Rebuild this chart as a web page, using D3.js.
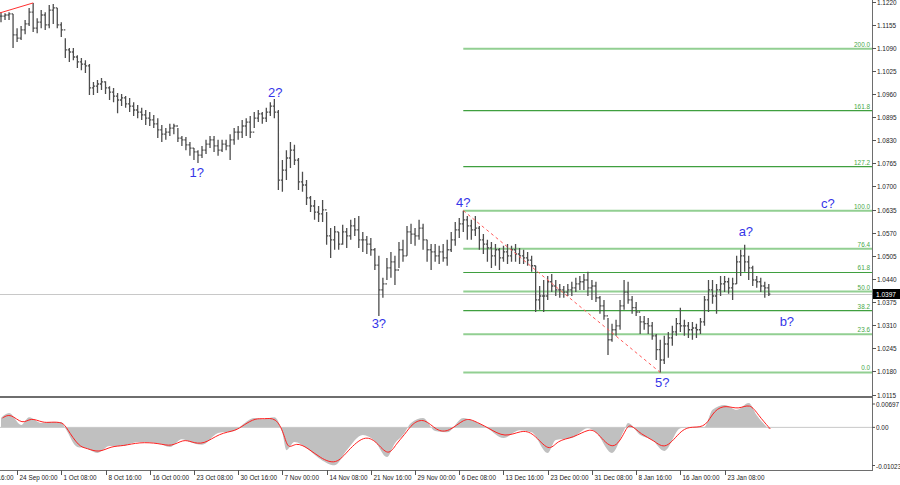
<!DOCTYPE html>
<html><head><meta charset="utf-8">
<script src="https://cdn.jsdelivr.net/npm/d3@7"></script>
<style>body{margin:0;background:#fff}svg{display:block}</style>
</head><body>
<svg id="c" width="900" height="485"></svg>
<script>
// ---- DATA ----
const high=[1.1190,1.1187,1.1190,1.1185,1.1145,1.1151,1.1168,1.1202,1.1216,1.1173,1.1196,1.1190,1.1210,1.1213,1.1202,1.1162,
1.1117,1.1089,1.1089,1.1069,1.1061,1.1055,1.1044,1.0994,1.0999,1.1005,1.0996,1.0982,1.0977,1.0963,1.0960,1.0954,1.0949,1.0937,1.0929,1.0921,
1.0915,1.0909,1.0901,1.0892,1.0873,1.0864,1.0876,1.0876,1.0864,1.0842,1.0839,1.0825,1.0808,1.0802,1.0814,1.0831,1.0842,1.0842,1.0831,1.0831,
1.0831,1.0847,1.0864,1.0870,1.0887,1.0892,1.0898,1.0909,1.0915,1.0909,1.0921,1.0937,1.0946,1.0915,1.0774,1.0802,1.0825,1.0817,1.0780,1.0741,
1.0718,1.0673,1.0662,1.0645,1.0662,1.0628,1.0583,1.0589,1.0572,1.0592,1.0583,1.0606,1.0611,1.0617,1.0572,1.0561,1.0555,1.0527,1.0505,1.0443,
1.0499,1.0516,1.0505,1.0544,1.0550,1.0589,1.0595,1.0583,1.0606,1.0595,1.0550,1.0538,1.0538,1.0533,1.0538,1.0550,1.0572,1.0600,1.0611,1.0632,
1.0617,1.0606,1.0617,1.0589,1.0566,1.0550,1.0544,1.0538,1.0527,1.0533,1.0538,1.0533,1.0538,1.0527,1.0522,1.0516,1.0505,1.0477,1.0420,1.0437,
1.0448,1.0454,1.0437,1.0426,1.0420,1.0426,1.0432,1.0443,1.0448,1.0454,1.0460,1.0437,1.0432,1.0392,1.0381,1.0330,1.0314,1.0325,1.0381,1.0437,
1.0432,1.0392,1.0375,1.0336,1.0336,1.0330,1.0319,1.0285,1.0269,1.0280,1.0291,1.0308,1.0330,1.0359,1.0325,1.0319,1.0319,1.0314,1.0330,1.0392,
1.0437,1.0437,1.0426,1.0448,1.0448,1.0443,1.0443,1.0505,1.0522,1.0536,1.0505,1.0477,1.0448,1.0443,1.0432,1.0426];
const low=[1.1162,1.1168,1.1168,1.1089,1.1106,1.1112,1.1128,1.1151,1.1134,1.1131,1.1145,1.1140,1.1145,1.1157,1.1145,1.1120,
1.1061,1.1050,1.1055,1.1033,1.1027,1.1019,1.0957,1.0957,1.0963,1.0971,1.0960,1.0943,1.0937,1.0906,1.0926,1.0921,1.0909,1.0898,1.0892,1.0887,
1.0873,1.0870,1.0864,1.0836,1.0825,1.0831,1.0842,1.0847,1.0825,1.0814,1.0802,1.0786,1.0774,1.0766,1.0780,1.0791,1.0808,1.0797,1.0786,1.0797,
1.0802,1.0774,1.0817,1.0831,1.0836,1.0842,1.0836,1.0864,1.0881,1.0876,1.0881,1.0898,1.0892,1.0690,1.0685,1.0718,1.0752,1.0760,1.0690,1.0685,
1.0648,1.0628,1.0606,1.0600,1.0600,1.0536,1.0499,1.0522,1.0522,1.0536,1.0527,1.0550,1.0561,1.0527,1.0516,1.0510,1.0505,1.0465,1.0336,1.0387,
1.0437,1.0443,1.0423,1.0471,1.0488,1.0505,1.0538,1.0533,1.0550,1.0522,1.0488,1.0465,1.0488,1.0482,1.0488,1.0477,1.0516,1.0533,1.0555,1.0572,
1.0550,1.0550,1.0561,1.0522,1.0510,1.0488,1.0471,1.0477,1.0465,1.0488,1.0482,1.0488,1.0488,1.0482,1.0482,1.0477,1.0460,1.0347,1.0353,1.0347,
1.0381,1.0403,1.0392,1.0387,1.0387,1.0392,1.0392,1.0403,1.0409,1.0409,1.0392,1.0381,1.0375,1.0342,1.0325,1.0226,1.0263,1.0280,1.0297,1.0353,
1.0370,1.0342,1.0336,1.0285,1.0297,1.0285,1.0269,1.0212,1.0177,1.0201,1.0218,1.0252,1.0280,1.0291,1.0280,1.0274,1.0269,1.0274,1.0285,1.0308,
1.0347,1.0370,1.0342,1.0392,1.0403,1.0398,1.0381,1.0426,1.0448,1.0460,1.0437,1.0420,1.0415,1.0403,1.0387,1.0392];
const close=[1.1179,1.1182,1.1185,1.1126,1.1117,1.1140,1.1157,1.1190,1.1145,1.1162,1.1182,1.1154,1.1196,1.1202,1.1154,1.1140,
1.1084,1.1078,1.1064,1.1050,1.1044,1.1039,1.0977,1.0982,1.0988,1.0994,1.0977,1.0965,1.0954,1.0943,1.0949,1.0932,1.0926,1.0915,1.0909,1.0901,
1.0892,1.0887,1.0876,1.0859,1.0847,1.0853,1.0864,1.0870,1.0836,1.0831,1.0817,1.0808,1.0797,1.0788,1.0802,1.0819,1.0831,1.0814,1.0802,1.0819,
1.0814,1.0831,1.0853,1.0853,1.0870,1.0881,1.0853,1.0892,1.0904,1.0892,1.0909,1.0926,1.0909,1.0718,1.0746,1.0780,1.0802,1.0774,1.0713,1.0704,
1.0668,1.0645,1.0628,1.0623,1.0634,1.0561,1.0550,1.0572,1.0538,1.0572,1.0561,1.0589,1.0578,1.0550,1.0550,1.0538,1.0522,1.0479,1.0409,1.0426,
1.0471,1.0488,1.0465,1.0522,1.0505,1.0572,1.0566,1.0561,1.0583,1.0550,1.0522,1.0516,1.0505,1.0516,1.0499,1.0522,1.0550,1.0578,1.0595,1.0606,
1.0589,1.0578,1.0583,1.0550,1.0538,1.0527,1.0505,1.0522,1.0499,1.0516,1.0505,1.0522,1.0510,1.0505,1.0499,1.0493,1.0477,1.0381,1.0392,1.0392,
1.0432,1.0420,1.0409,1.0409,1.0403,1.0409,1.0415,1.0426,1.0432,1.0437,1.0415,1.0420,1.0387,1.0364,1.0336,1.0269,1.0297,1.0308,1.0364,1.0403,
1.0381,1.0359,1.0347,1.0319,1.0314,1.0308,1.0280,1.0241,1.0212,1.0257,1.0274,1.0291,1.0314,1.0308,1.0308,1.0297,1.0302,1.0297,1.0319,1.0381,
1.0409,1.0392,1.0409,1.0426,1.0432,1.0415,1.0426,1.0488,1.0505,1.0488,1.0471,1.0437,1.0432,1.0420,1.0415,1.0397];

const priceTicks=[1.1220,1.1155,1.1090,1.1025,1.0960,1.0895,1.0830,1.0765,1.0700,1.0635,1.0570,1.0505,1.0440,1.0375,1.0310,1.0245,1.0180,1.0115];
const lastPrice=1.0397;
const fibHigh=1.0632, fibLow=1.0177, fibStartIdx=115;
const fibLevels=[0,23.6,38.2,50,61.8,76.4,100,127.2,161.8,200];
const fibNames=["0.0","23.6","38.2","50.0","61.8","76.4","100.0","127.2","161.8","200.0"];
const dateLabels=["16 Sep 16:00","24 Sep 00:00","1 Oct 08:00","8 Oct 16:00","16 Oct 00:00","23 Oct 08:00","30 Oct 16:00","7 Nov 00:00","14 Nov 08:00","21 Nov 16:00","29 Nov 00:00","6 Dec 08:00","13 Dec 16:00","23 Dec 00:00","31 Dec 08:00","8 Jan 16:00","16 Jan 00:00","23 Jan 08:00"];
const dateIdx=[-7,4,15,26,37,48,59,70,81,92,103,114,125,136,147,158,169,180];
const waveText=["1?","2?","3?","4?","5?","a?","b?","c?"];
const waveIdx=[48.7,68.2,94,115,164.5,185.3,195.5,205.7];
const wavePrice=[1.0738,1.0963,1.0314,1.0656,1.0148,1.0572,1.0319,1.0651];
const redTrendIdx=[-0.25,8], redTrendPrice=[1.1188,1.1216];
const dashIdx=[115,164], dashPrice=[1.0632,1.0177];
const oscIdx=[0,2,5,7,10,12,15,16,19,21,24,27,30,34,39,42,45,47,50,54,58,60,63,65,68,70,71,73,76,79,83,86,90,93,96,98,100,102,105,108,111,115,117,121,125,129,132,136,138,142,146,148,152,155,156,159,162,165,169,172,175,177,180,183,186,188,191];
const oscVals=[0.0023,0.0035,0.0006,0.0025,0.0011,0.0013,0.0013,-0.0002,-0.0048,-0.0051,-0.0063,-0.0046,-0.0046,-0.0036,-0.0039,-0.0048,-0.0029,-0.0036,-0.0043,-0.0014,-0.0009,0.0006,0.0023,0.0020,0.0025,-0.0014,-0.0056,-0.0036,-0.0051,-0.0075,-0.0093,-0.0056,-0.0019,-0.0034,-0.0073,-0.0039,-0.0019,0.0011,0.0023,-0.0009,-0.0012,0.0023,0.0018,-0.0002,-0.0026,-0.0007,-0.0012,-0.0063,-0.0031,-0.0026,-0.0002,-0.0012,-0.0063,-0.0007,0.0011,-0.0019,-0.0031,-0.0058,-0.0002,0.0001,0.0001,0.0043,0.0055,0.0043,0.0060,0.0030,-0.0004];
const oscTicks=[0.00697,0,-0.01023];
const oscTickNames=["0.00697","0.00","-0.01023"];

// ---- DRAW ----
const svg=d3.select('#c');
const W=872, mainBottom=396, oscTop=399, oscBottom=469, axisY=470;
const x=d3.scaleLinear().domain([0,191]).range([1,768.8]);
const y=d3.scaleLinear().domain([1.0115,1.1220]).range([394.5,1.5]);
const yo=d3.scaleLinear().domain([-0.01023,0.00697]).range([oscBottom,oscTop]);
const FONT="'Liberation Sans', Arial, sans-serif";

const defs=svg.append('defs');
defs.append('clipPath').attr('id','cm').append('rect').attr('x',0).attr('y',0).attr('width',W).attr('height',mainBottom);
defs.append('clipPath').attr('id','co').append('rect').attr('x',0).attr('y',oscTop-2).attr('width',W).attr('height',oscBottom-oscTop+3);

const gm=svg.append('g').attr('clip-path','url(#cm)');
// current price line
gm.append('line').attr('x1',0).attr('x2',W).attr('y1',Math.round(y(lastPrice))+0.5).attr('y2',Math.round(y(lastPrice))+0.5)
  .attr('stroke','#c8c8c8').attr('stroke-width',1);

// fib lines
const strong=new Set([0,23.6,50,76.4,100,200]);
const fibP=l=>fibLow+(fibHigh-fibLow)*l/100;
fibLevels.forEach((l,k)=>{
  const yy=y(fibP(l));
  const s=strong.has(l);
  gm.append('line').attr('x1',x(fibStartIdx)).attr('x2',W).attr('y1',yy).attr('y2',yy)
    .attr('stroke',s?'#92cf92':'#3f9f3f').attr('stroke-width',s?2:1.1);
  gm.append('text').attr('transform',`translate(${W-2},${yy-2}) scale(0.85,1)`).attr('text-anchor','end')
    .attr('font-family',FONT).attr('font-size',7.5).attr('fill','#48a848').text(fibNames[k]);
});

// bars
let pth='';
high.forEach((h,i)=>{
  const xx=x(i);
  const o=i>0?close[i-1]:close[i];
  pth+=`M${xx},${y(h)}V${y(low[i])}M${xx-1.6},${y(o)}H${xx}M${xx},${y(close[i])}H${xx+1.6}`;
});
gm.append('path').attr('d',pth).attr('stroke','#4d4d4d').attr('stroke-width',1.3).attr('fill','none');

// red trend line & dashed
gm.append('line').attr('x1',x(redTrendIdx[0])).attr('y1',y(redTrendPrice[0])).attr('x2',x(redTrendIdx[1])).attr('y2',y(redTrendPrice[1]))
  .attr('stroke','#ff3030').attr('stroke-width',1);
gm.append('line').attr('x1',x(dashIdx[0])).attr('y1',y(dashPrice[0])).attr('x2',x(dashIdx[1])).attr('y2',y(dashPrice[1]))
  .attr('stroke','#ff5a5a').attr('stroke-width',1).attr('stroke-dasharray','3,3');

// wave labels
waveText.forEach((t,k)=>{
  gm.append('text').attr('x',x(waveIdx[k])).attr('y',y(wavePrice[k])+4.5).attr('text-anchor','middle')
    .attr('font-family',FONT).attr('font-size',13).attr('fill','#3535e8').text(t);
});

// oscillator
const go=svg.append('g').attr('clip-path','url(#co)');
const od=oscIdx.map((d,k)=>[d,oscVals[k]]);
go.append('path').datum(od).attr('fill','#c0c0c0')
  .attr('d',d3.area().x(d=>x(d[0])).y0(yo(0)).y1(d=>yo(d[1])).curve(d3.curveMonotoneX));
go.append('line').attr('x1',0).attr('x2',W).attr('y1',yo(0)).attr('y2',yo(0)).attr('stroke','#c8c8c8').attr('stroke-width',1);
go.append('path').datum(od).attr('fill','none').attr('stroke','#ff2020').attr('stroke-width',1)
  .attr('d',d3.line().x(d=>x(d[0])+1.5).y(d=>yo(d[1])).curve(d3.curveBasis));

// frames
svg.append('rect').attr('x',0).attr('y',396).attr('width',W).attr('height',2).attr('fill','#6e6e6e');
svg.append('line').attr('x1',0).attr('x2',W).attr('y1',axisY+0.5).attr('y2',axisY+0.5).attr('stroke','#6e6e6e');
svg.append('line').attr('x1',W+0.5).attr('x2',W+0.5).attr('y1',0).attr('y2',axisY+1).attr('stroke','#6e6e6e');

// price axis
const ga=svg.append('g');
priceTicks.forEach(p=>{
  const yy=Math.round(y(p))+0.5;
  ga.append('line').attr('x1',W).attr('x2',W+4).attr('y1',yy).attr('y2',yy).attr('stroke','#555');
  ga.append('text').attr('transform',`translate(${W+5},${yy+2.5}) scale(0.82,1)`).attr('font-family',FONT).attr('font-size',7.8).attr('fill','#222')
    .text(p.toFixed(4));
});
const ly=Math.round(y(lastPrice));
ga.append('rect').attr('x',W+1).attr('y',ly-5).attr('width',27).attr('height',10).attr('fill','#000');
ga.append('text').attr('transform',`translate(${W+4},${ly+3}) scale(0.82,1)`).attr('font-family',FONT).attr('font-size',8).attr('fill','#fff')
  .text(lastPrice.toFixed(4));

// osc axis
oscTicks.forEach((v,k)=>{
  let yy=yo(v);
  if(k===0) yy=404; if(k===2) yy=465.5;
  ga.append('line').attr('x1',W).attr('x2',W+3).attr('y1',yy).attr('y2',yy).attr('stroke','#555');
  ga.append('text').attr('transform',`translate(${W+4},${yy+3}) scale(0.82,1)`).attr('font-family',FONT).attr('font-size',7.8).attr('fill','#222')
    .text(oscTickNames[k]);
});

// time axis
dateLabels.forEach((t,k)=>{
  const xx=Math.round(x(dateIdx[k]))+0.5;
  ga.append('line').attr('x1',xx).attr('x2',xx).attr('y1',axisY).attr('y2',axisY+5).attr('stroke','#555');
  ga.append('text').attr('transform',`translate(${xx+2},${axisY+10}) scale(0.8,1)`).attr('font-family',FONT).attr('font-size',8).attr('fill','#222').text(t);
});
</script>
</body></html>
